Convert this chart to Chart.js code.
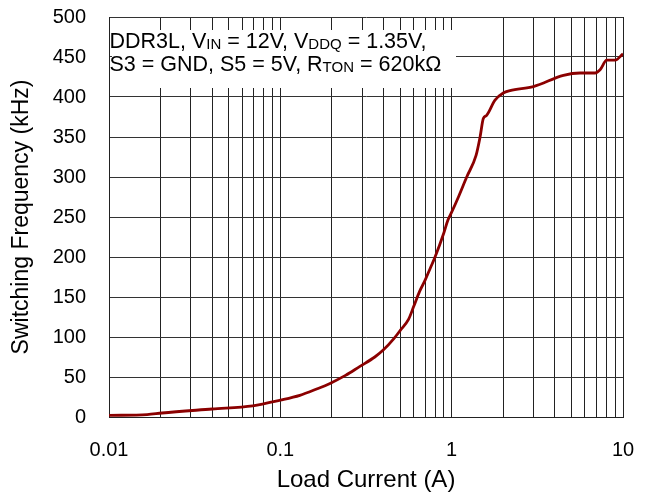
<!DOCTYPE html>
<html>
<head>
<meta charset="utf-8">
<script src="https://cdn.jsdelivr.net/npm/chart.js@4.4.0/dist/chart.umd.min.js"></script>
<style>
  html, body { margin: 0; padding: 0; background: #fff; }
  #wrap { width: 651px; height: 498px; }
</style>
</head>
<body>
<div id="wrap"><canvas id="freq-chart"></canvas></div>
<script>
// load current (A) and switching frequency (kHz)
var loadCurrent = [0.01, 0.0167, 0.0204, 0.04, 0.069, 0.1, 0.13, 0.163, 0.195, 0.24,
  0.29, 0.356, 0.4, 0.46, 0.5, 0.56, 0.6, 0.65, 0.7, 0.75, 0.8, 0.9, 0.95, 1.0, 1.1,
  1.224, 1.388, 1.465, 1.53, 1.6, 1.79, 2.0, 2.19, 3.0, 4.49, 5.62, 6.87, 7.35, 8.04,
  9.0, 10
];
var switchFreq = [2, 3, 5, 10, 14, 21, 27, 35, 42, 52,
  63, 75, 84, 98, 108, 122, 138, 157, 171, 186, 200, 230, 246, 256, 276,
  300, 327, 350, 373, 377, 396, 405, 408, 413, 427, 430, 430, 434, 446,
  446, 454
];

var decades = [0.01, 0.1, 1, 10];
var decadeLabels = ["0.01", "0.1", "1", "10"];
var minorSteps = [1, 2, 3, 4, 5, 6, 7, 8, 9];

var gridValues = [];
decades.forEach(function (d, i) {
  if (i == decades.length - 1) {
    gridValues.push(d);
    return;
  }
  minorSteps.forEach(function (m) {
    gridValues.push(+(d * m).toPrecision(3));
  });
});

var FONT = "'Liberation Sans', Arial, sans-serif";

// white note box with the test conditions, top left of the plot
var notePlugin = {
  id: 'note',
  beforeDatasetsDraw: function (chart) {
    var ctx = chart.ctx;
    var a = chart.chartArea;
    ctx.save();
    ctx.fillStyle = '#fff';
    ctx.fillRect(a.left + 3, 30, 344, 58);
    ctx.fillStyle = '#000';
    ctx.textBaseline = 'alphabetic';

    function runs(parts, x, y) {
      parts.forEach(function (p) {
        ctx.font = (p[1] ? '15px ' : '21.5px ') + FONT;
        ctx.fillText(p[0], x, y + (p[1] ? 1 : 0));
        x += ctx.measureText(p[0]).width;
      });
    }
    runs([["DDR3L, V", 0], ["IN", 1], [" = 12V, V", 0], ["DDQ", 1], [" = 1.35V,", 0]], a.left + 0.5, 47.5);
    runs([["S3 = GND, S5 = 5V, R", 0], ["TON", 1], [" = 620k\u03A9", 0]], a.left + 0.5, 71);
    ctx.restore();
  }
};

new Chart(document.getElementById("freq-chart"), {
  type: 'line',
  data: {
    datasets: [{
      data: loadCurrent.map(function (x, i) { return { x: x, y: switchFreq[i] }; }),
      borderColor: "#8b0000",
      borderWidth: 2.8,
      pointRadius: 0,
      cubicInterpolationMode: 'monotone',
      fill: false
    }]
  },
  options: {
    responsive: true,
    maintainAspectRatio: false,
    animation: false,
    layout: { padding: { top: 17, right: 28, left: 0, bottom: 0 } },
    plugins: {
      legend: { display: false },
      tooltip: { enabled: false }
    },
    scales: {
      x: {
        type: 'logarithmic',
        min: 0.01,
        max: 10,
        afterBuildTicks: function (scale) {
          scale.ticks = gridValues.map(function (v) { return { value: v }; });
        },
        afterFit: function (scale) { scale.height = 81; },
        // transparent tick marks only push the labels down
        grid: { color: '#222', lineWidth: 1, drawTicks: true, tickLength: 21, tickColor: 'rgba(0,0,0,0)' },
        border: { color: '#222', width: 1 },
        ticks: {
          autoSkip: false,
          maxRotation: 0,
          padding: 0,
          color: '#000',
          font: { family: FONT, size: 20 },
          callback: function (value) {
            var i = decades.indexOf(+(+value).toPrecision(3));
            return i >= 0 ? decadeLabels[i] : '';
          }
        },
        title: {
          display: true,
          text: 'Load Current (A)',
          color: '#000',
          font: { family: FONT, size: 24 },
          padding: { top: 0, bottom: 3 }
        }
      },
      y: {
        min: 0,
        max: 500,
        afterFit: function (scale) { scale.width = 109; },
        grid: { color: '#333', lineWidth: 1, drawTicks: true, tickLength: 23, tickColor: 'rgba(0,0,0,0)' },
        border: { color: '#222', width: 1 },
        ticks: {
          stepSize: 50,
          padding: 0,
          color: '#000',
          font: { family: FONT, size: 20 }
        },
        title: {
          display: true,
          text: 'Switching Frequency (kHz)',
          color: '#000',
          font: { family: FONT, size: 23 },
          padding: { top: 8, bottom: 0 }
        }
      }
    }
  },
  plugins: [notePlugin]
});
</script>
</body>
</html>
